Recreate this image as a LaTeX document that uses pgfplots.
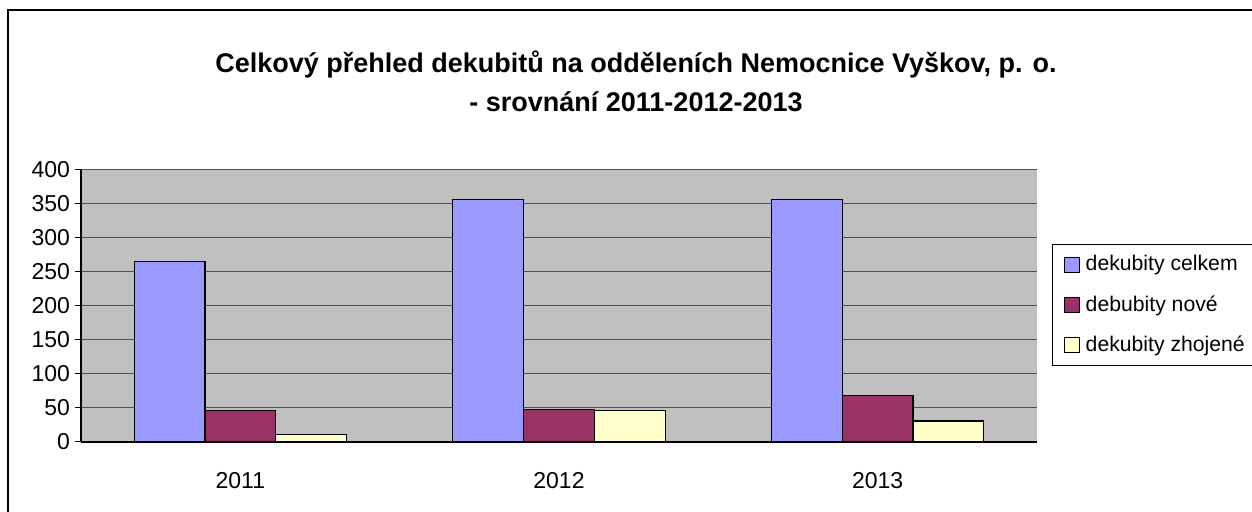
\documentclass[border=0pt]{standalone}
\usepackage{fontspec}
\setmainfont{Liberation Sans}
\usepackage{pgfplots}
\pgfplotsset{compat=1.18}
\definecolor{cCelk}{HTML}{9999FF}
\definecolor{cNove}{HTML}{993366}
\definecolor{cZhoj}{HTML}{FFFFCC}
\definecolor{plotbg}{HTML}{C0C0C0}
\definecolor{gridc}{HTML}{505050}
\begin{document}
\begin{tikzpicture}
\useasboundingbox (0,0) rectangle (626pt,256pt);
\draw[black,line width=0.8pt] (4pt,-1pt) -- (4pt,251pt) -- (627pt,251pt);
\node[font=\fontsize{13.5pt}{19.5pt}\selectfont\bfseries, align=center] at (318pt,215.5pt)
  {Celkový přehled dekubitů na odděleních Nemocnice Vyškov, p. o.\\- srovnání 2011-2012-2013};
\begin{axis}[
  at={(40.5pt,35pt)}, anchor=south west,
  scale only axis, width=478pt, height=136pt,
  xmin=-0.5, xmax=2.5, ymin=0, ymax=400,
  ybar, bar width=0.222,
  axis background/.style={fill=plotbg},
  axis x line*=bottom, axis y line*=left,
  axis line style={black, line width=0.6pt},
  ytick={0,50,...,400},
  ymajorgrids, grid style={gridc, line width=0.5pt},
  xtick={0,1,2}, xticklabels={2011,2012,2013},
  extra x ticks={-0.5,0.5,1.5,2.5}, extra x tick labels={},
  extra x tick style={major tick length=5pt, tick style={black, line width=0.5pt}, tick align=outside, grid=none},
  x tick style={draw=none},
  y tick style={black, line width=0.5pt},
  tick align=outside, major tick length=3pt,
  ticklabel style={font=\fontsize{11.5pt}{13pt}\selectfont},
  yticklabel style={xshift=1pt},
  xticklabel style={yshift=-8.5pt},
  /pgf/number format/assume math mode=true,
  legend style={at={(rel axis cs:1.0157,0.728)}, anchor=north west, draw=black, line width=0.5pt,
    font=\fontsize{10.6pt}{12pt}\selectfont, row sep=6.8pt, inner xsep=2pt, inner ysep=3.5pt,
    cells={anchor=west}, /tikz/every even column/.append style={column sep=0pt}},
  clip=false,
]
\addplot[fill=cCelk, draw=black, line width=0.6pt, bar shift=-0.222,
  legend image code/.code={\path (0pt,0pt) (12pt,0pt); \draw[fill=cCelk,draw=black,line width=0.5pt] (3.5pt,-3.75pt) rectangle (11pt,3.75pt);}]
  coordinates {(0,266) (1,357) (2,357)};
\addplot[fill=cNove, draw=black, line width=0.6pt, bar shift=0,
  legend image code/.code={\path (0pt,0pt) (12pt,0pt); \draw[fill=cNove,draw=black,line width=0.5pt] (3.5pt,-3.75pt) rectangle (11pt,3.75pt);}]
  coordinates {(0,46) (1,48) (2,68)};
\addplot[fill=cZhoj, draw=black, line width=0.6pt, bar shift=0.222,
  legend image code/.code={\path (0pt,0pt) (12pt,0pt); \draw[fill=cZhoj,draw=black,line width=0.5pt] (3.5pt,-3.75pt) rectangle (11pt,3.75pt);}]
  coordinates {(0,11) (1,46) (2,31)};
\legend{dekubity celkem, debubity nové, dekubity zhojené}
\end{axis}
\end{tikzpicture}
\end{document}
